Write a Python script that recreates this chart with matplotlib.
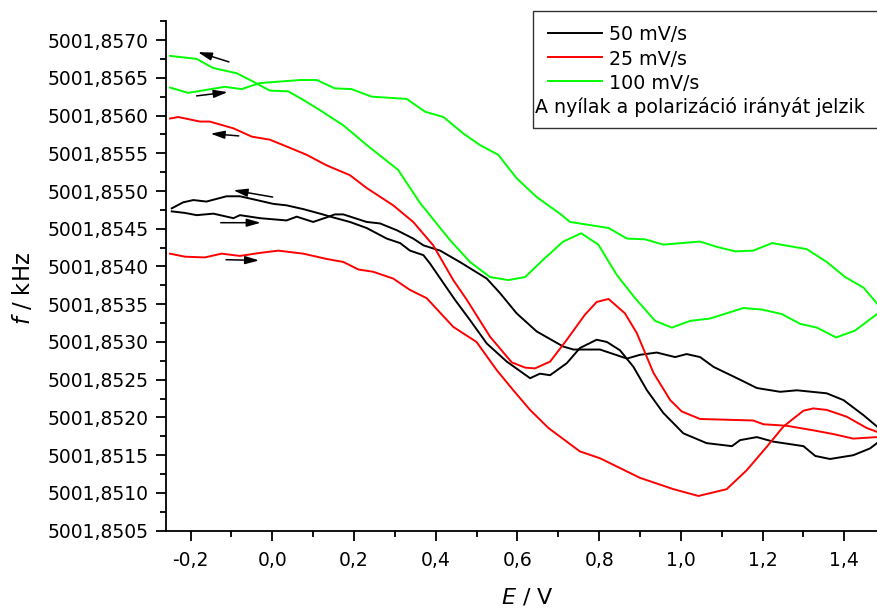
import matplotlib
matplotlib.use("Agg")
import matplotlib.pyplot as plt
from matplotlib.lines import Line2D
from matplotlib.patches import Rectangle
from matplotlib.ticker import MultipleLocator, FuncFormatter

plt.rcParams["font.family"] = ["DejaVu Sans"]
plt.rcParams["mathtext.fontset"] = "dejavusans"

# 50 mV/s
E_50_fwd = [-0.246, -0.214, -0.185, -0.144, -0.095, -0.079, -0.030, 0.035, 0.060, 0.100, 0.133, 0.153,
            0.174, 0.231, 0.264, 0.305, 0.345, 0.370, 0.411, 0.459, 0.525, 0.557, 0.598, 0.647, 0.712,
            0.737, 0.802, 0.868, 0.900, 0.941, 0.986, 1.014, 1.047, 1.080, 1.145, 1.186, 1.243, 1.284,
            1.357, 1.398, 1.447, 1.480]
f_50_fwd = [5001.85473, 5001.85471, 5001.85468, 5001.85470, 5001.85464, 5001.85468, 5001.85464,
            5001.85461, 5001.85466, 5001.85459, 5001.85465, 5001.85469, 5001.85469, 5001.85459,
            5001.85457, 5001.85448, 5001.85437, 5001.85428, 5001.85421, 5001.85406, 5001.85384,
            5001.85365, 5001.85338, 5001.85314, 5001.85294, 5001.85290, 5001.85290, 5001.85278,
            5001.85283, 5001.85286, 5001.85280, 5001.85284, 5001.85280, 5001.85267, 5001.85250,
            5001.85239, 5001.85234, 5001.85236, 5001.85232, 5001.85223, 5001.85203, 5001.85188]
E_50_back = [-0.246, -0.218, -0.193, -0.161, -0.112, -0.079, -0.038, 0.002, 0.035, 0.076, 0.117, 0.149,
             0.190, 0.231, 0.280, 0.313, 0.337, 0.370, 0.386, 0.419, 0.447, 0.484, 0.525, 0.574, 0.631,
             0.655, 0.680, 0.721, 0.753, 0.794, 0.819, 0.851, 0.884, 0.917, 0.957, 1.006, 1.063, 1.125,
             1.145, 1.186, 1.226, 1.300, 1.329, 1.365, 1.422, 1.463, 1.480]
f_50_back = [5001.85477, 5001.85485, 5001.85488, 5001.85486, 5001.85493, 5001.85493, 5001.85488,
             5001.85483, 5001.85481, 5001.85476, 5001.85470, 5001.85465, 5001.85459, 5001.85451,
             5001.85437, 5001.85431, 5001.85421, 5001.85415, 5001.85404, 5001.85378, 5001.85356,
             5001.85329, 5001.85298, 5001.85274, 5001.85252, 5001.85258, 5001.85256, 5001.85272,
             5001.85292, 5001.85303, 5001.85300, 5001.85289, 5001.85267, 5001.85236, 5001.85206,
             5001.85179, 5001.85166, 5001.85162, 5001.85170, 5001.85174, 5001.85168, 5001.85162,
             5001.85149, 5001.85145, 5001.85150, 5001.85159, 5001.85166]

# 25 mV/s
E_25_fwd = [-0.250, -0.214, -0.165, -0.124, -0.079, -0.030, 0.015, 0.076, 0.133, 0.174, 0.211, 0.247,
            0.296, 0.337, 0.378, 0.443, 0.500, 0.549, 0.590, 0.631, 0.676, 0.753, 0.802, 0.900, 0.982,
            1.043, 1.112, 1.161, 1.210, 1.251, 1.300, 1.324, 1.357, 1.406, 1.455, 1.480]
f_25_fwd = [5001.85417, 5001.85413, 5001.85412, 5001.85417, 5001.85414, 5001.85418, 5001.85421,
            5001.85417, 5001.85410, 5001.85406, 5001.85396, 5001.85393, 5001.85384, 5001.85369,
            5001.85358, 5001.85320, 5001.85300, 5001.85263, 5001.85236, 5001.85210, 5001.85186,
            5001.85155, 5001.85146, 5001.85120, 5001.85105, 5001.85096, 5001.85105, 5001.85130,
            5001.85161, 5001.85188, 5001.85209, 5001.85212, 5001.85210, 5001.85201, 5001.85186,
            5001.85181]
E_25_back = [-0.250, -0.230, -0.177, -0.153, -0.095, -0.050, -0.006, 0.035, 0.084, 0.133, 0.190, 0.231,
             0.296, 0.345, 0.394, 0.443, 0.476, 0.533, 0.586, 0.619, 0.643, 0.680, 0.721, 0.765, 0.794,
             0.823, 0.863, 0.892, 0.933, 0.974, 1.002, 1.047, 1.177, 1.202, 1.259, 1.324, 1.373, 1.422,
             1.480]
f_25_back = [5001.85596, 5001.85598, 5001.85592, 5001.85592, 5001.85583, 5001.85572, 5001.85568,
             5001.85559, 5001.85548, 5001.85534, 5001.85521, 5001.85504, 5001.85481, 5001.85459,
             5001.85428, 5001.85382, 5001.85356, 5001.85307, 5001.85273, 5001.85266, 5001.85265,
             5001.85274, 5001.85303, 5001.85336, 5001.85353, 5001.85357, 5001.85338, 5001.85312,
             5001.85259, 5001.85223, 5001.85208, 5001.85198, 5001.85196, 5001.85191, 5001.85189,
             5001.85183, 5001.85178, 5001.85172, 5001.85174]

# 100 mV/s
E_100_fwd = [-0.250, -0.206, -0.161, -0.116, -0.075, -0.030, 0.019, 0.068, 0.109, 0.153, 0.194, 0.243,
             0.329, 0.374, 0.419, 0.468, 0.508, 0.553, 0.598, 0.647, 0.704, 0.729, 0.823, 0.868, 0.912,
             0.957, 1.047, 1.088, 1.133, 1.177, 1.223, 1.308, 1.357, 1.402, 1.447, 1.480]
f_100_fwd = [5001.85637, 5001.85630, 5001.85634, 5001.85638, 5001.85635, 5001.85643, 5001.85645,
             5001.85647, 5001.85647, 5001.85636, 5001.85635, 5001.85625, 5001.85622, 5001.85605,
             5001.85598, 5001.85576, 5001.85561, 5001.85548, 5001.85517, 5001.85492, 5001.85470,
             5001.85459, 5001.85451, 5001.85437, 5001.85436, 5001.85429, 5001.85433, 5001.85426,
             5001.85420, 5001.85421, 5001.85431, 5001.85423, 5001.85406, 5001.85386, 5001.85372,
             5001.85351]
E_100_back = [-0.250, -0.185, -0.145, -0.087, -0.047, -0.006, 0.039, 0.075, 0.117, 0.174, 0.231, 0.308,
              0.362, 0.435, 0.484, 0.533, 0.578, 0.619, 0.663, 0.712, 0.756, 0.798, 0.843, 0.888, 0.937,
              0.978, 1.023, 1.071, 1.153, 1.198, 1.247, 1.292, 1.333, 1.380, 1.426, 1.480]
f_100_back = [5001.85679, 5001.85675, 5001.85663, 5001.85656, 5001.85645, 5001.85633, 5001.85632,
              5001.85621, 5001.85607, 5001.85587, 5001.85561, 5001.85528, 5001.85484, 5001.85435,
              5001.85406, 5001.85386, 5001.85382, 5001.85386, 5001.85409, 5001.85433, 5001.85444,
              5001.85429, 5001.85389, 5001.85358, 5001.85328, 5001.85319, 5001.85328, 5001.85331,
              5001.85345, 5001.85343, 5001.85337, 5001.85324, 5001.85319, 5001.85306, 5001.85315,
              5001.85337]

# scan direction arrows: (tail E, tail f, head E, head f)
arrows = [
    (-0.106, 5001.85671, -0.182, 5001.85684),
    (-0.185, 5001.85626, -0.109, 5001.85631),
    (-0.082, 5001.85573, -0.151, 5001.85576),
    (0.001, 5001.85492, -0.095, 5001.85501),
    (-0.126, 5001.85458, -0.028, 5001.85458),
    (-0.113, 5001.85409, -0.032, 5001.85408),
]

labels = ["50 mV/s", "25 mV/s", "100 mV/s"]
colors = ["black", "#ff0000", "#00ff00"]
note = "A nyílak a polarizáció irányát jelzik"

W, H = 877, 608
fig = plt.figure(figsize=(W / 100, H / 100), dpi=100)
ax = fig.add_axes([166 / W, 1 - 530.7 / H, 1 - 166 / W, (530.7 - 21) / H])

lw = 1.4
ax.plot(E_50_fwd, f_50_fwd, color=colors[0], lw=lw)
ax.plot(E_50_back, f_50_back, color=colors[0], lw=lw)
ax.plot(E_25_fwd, f_25_fwd, color=colors[1], lw=lw)
ax.plot(E_25_back, f_25_back, color=colors[1], lw=lw)
ax.plot(E_100_fwd, f_100_fwd, color=colors[2], lw=lw)
ax.plot(E_100_back, f_100_back, color=colors[2], lw=lw)

for x0, y0, x1, y1 in arrows:
    ax.annotate("", xy=(x1, y1), xytext=(x0, y0),
                arrowprops=dict(arrowstyle="-|>,head_length=0.7,head_width=0.2",
                                color="black", lw=1.1, mutation_scale=12,
                                shrinkA=0, shrinkB=0))

ax.set_xlim(-0.26, 1.48)
ax.set_ylim(5001.8505, 5001.857252)
ax.xaxis.set_major_locator(MultipleLocator(0.2))
ax.xaxis.set_minor_locator(MultipleLocator(0.1))
ax.yaxis.set_major_locator(MultipleLocator(0.0005))
ax.yaxis.set_minor_locator(MultipleLocator(0.00025))
ax.xaxis.set_major_formatter(FuncFormatter(lambda v, p: f"{v:.1f}".replace(".", ",").replace("-0,0", "0,0")))
ax.yaxis.set_major_formatter(FuncFormatter(lambda v, p: f"{v:.4f}".replace(".", ",")))

for s in ["top", "right"]:
    ax.spines[s].set_visible(False)
for s in ["left", "bottom"]:
    ax.spines[s].set_linewidth(1.3)
ax.tick_params(which="major", direction="out", length=7.5, width=1.3, labelsize=13.5, pad=5)
ax.tick_params(axis="x", which="major", pad=7)
ax.tick_params(which="minor", direction="out", length=4, width=1.3)

fig.text(527.5 / W, 1 - 603.3 / H, "$E$ / V", fontsize=16, ha="center", va="baseline")
fig.text(23 / W, 1 - 289 / H, "$f$ / kHz", fontsize=16.3, ha="center", va="center", rotation=90)

# legend box
fig.add_artist(Rectangle((533 / W, 1 - 128 / H), (W + 5 - 533) / W, (128 - 10.7) / H,
                         transform=fig.transFigure, fill=False, edgecolor="#333333", lw=1.0))
line_rows = [33.3, 56.7, 81]
text_rows = [40, 65, 89.3]
for lab, col, ly, ty in zip(labels, colors, line_rows, text_rows):
    fig.add_artist(Line2D([548 / W, 602 / W], [1 - ly / H, 1 - ly / H],
                          transform=fig.transFigure, color=col, lw=lw))
    fig.text(609 / W, 1 - ty / H, lab, fontsize=13.7, ha="left", va="baseline")
fig.text(535 / W, 1 - 113.3 / H, note, fontsize=13.7, ha="left", va="baseline")

fig.savefig("out.png", dpi=100)
